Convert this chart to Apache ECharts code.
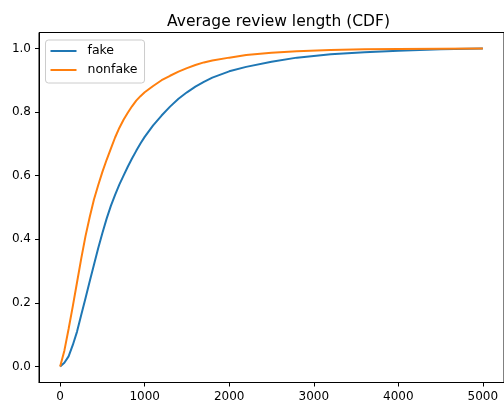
<!DOCTYPE html>
<html>
<head>
<meta charset="utf-8">
<script src="https://cdn.jsdelivr.net/npm/echarts@6/dist/echarts.min.js"></script>
<style>html,body{margin:0;padding:0;background:#fff}#c{width:504px;height:404px}</style>
</head>
<body>
<div id="c"></div>
<script>
const titleText = 'Average review length (CDF)';
const seriesNames = ['fake', 'nonfake'];
const xTicks = [0, 1000, 2000, 3000, 4000, 5000];
const yTicks = [0, 0.2, 0.4, 0.6, 0.8, 1.0];

const fakeX = [0, 50, 100, 150, 200, 250, 300, 350, 400, 450, 500, 550, 600, 650, 700, 750, 800, 850, 900, 950, 1000, 1100, 1200, 1300, 1400, 1500, 1600, 1700, 1800, 2000, 2200, 2500, 2800, 3200, 3600, 4000, 4500, 5000];
const fakeY = [0, 0.012, 0.032, 0.068, 0.11, 0.163, 0.215, 0.268, 0.32, 0.372, 0.42, 0.465, 0.505, 0.54, 0.572, 0.6, 0.628, 0.654, 0.678, 0.701, 0.722, 0.758, 0.789, 0.817, 0.842, 0.862, 0.88, 0.895, 0.908, 0.928, 0.942, 0.958, 0.971, 0.982, 0.988, 0.993, 0.997, 1.0];

const nonfakeX = [0, 50, 100, 150, 200, 250, 300, 350, 400, 450, 500, 550, 600, 650, 700, 750, 800, 850, 900, 950, 1000, 1100, 1200, 1300, 1400, 1500, 1600, 1700, 1800, 2000, 2200, 2500, 2800, 3200, 3600, 4000, 4500, 5000];
const nonfakeY = [0, 0.05, 0.118, 0.19, 0.265, 0.34, 0.41, 0.47, 0.525, 0.57, 0.612, 0.65, 0.685, 0.72, 0.75, 0.776, 0.798, 0.818, 0.836, 0.85, 0.862, 0.882, 0.9, 0.914, 0.927, 0.938, 0.948, 0.956, 0.962, 0.971, 0.979, 0.986, 0.991, 0.995, 0.997, 0.998, 0.999, 1.0];

const zip = (xs, ys) => xs.map((x, i) => [x, ys[i]]);
const FONT = 'DejaVu Sans';

const chart = echarts.init(document.getElementById('c'), null, {renderer: 'canvas'});
chart.setOption({
  animation: false,
  backgroundColor: '#fff',
  textStyle: {fontFamily: FONT},
  title: {
    text: titleText,
    left: 273.5, textAlign: 'center', top: 9,
    textStyle: {fontFamily: FONT, fontSize: 15.5, fontWeight: 'normal', color: '#000'}
  },
  legend: {
    data: seriesNames,
    orient: 'vertical',
    left: 45.5, top: 40,
    padding: [4, 7, 6, 5],
    itemGap: 5,
    itemWidth: 26, itemHeight: 2,
    icon: 'rect',
    borderColor: '#ccc', borderWidth: 1, borderRadius: 3,
    backgroundColor: 'rgba(255,255,255,0.8)',
    textStyle: {fontFamily: FONT, fontSize: 12.5, color: '#000', lineHeight: 14, padding: [0, 0, 0, 6]}
  },
  grid: {
    left: 39, right: -4, top: 32.5, bottom: 21.5,
    show: true, borderColor: '#000', borderWidth: 1, backgroundColor: 'transparent'
  },
  xAxis: {
    type: 'value', min: -250, max: 5250,
    splitLine: {show: false},
    axisLine: {show: true, onZero: false, lineStyle: {color: '#000', width: 1}},
    axisTick: {show: true, length: 4, lineStyle: {color: '#000'}, customValues: xTicks},
    axisLabel: {customValues: xTicks, margin: 8, fontFamily: FONT, fontSize: 12, color: '#000',
      formatter: v => String(Math.round(v))}
  },
  yAxis: {
    type: 'value', min: -0.05, max: 1.05,
    splitLine: {show: false},
    axisLine: {show: true, onZero: false, lineStyle: {color: '#000', width: 1}},
    axisTick: {show: true, length: 4, lineStyle: {color: '#000'}, customValues: yTicks},
    axisLabel: {customValues: yTicks, margin: 8, fontFamily: FONT, fontSize: 12, color: '#000',
      formatter: v => v.toFixed(1)}
  },
  series: [
    {name: seriesNames[0], type: 'line', data: zip(fakeX, fakeY), showSymbol: false, smooth: false,
      color: '#1f77b4', lineStyle: {color: '#1f77b4', width: 2}},
    {name: seriesNames[1], type: 'line', data: zip(nonfakeX, nonfakeY), showSymbol: false, smooth: false,
      color: '#ff7f0e', lineStyle: {color: '#ff7f0e', width: 2}}
  ]
});
</script>
</body>
</html>
